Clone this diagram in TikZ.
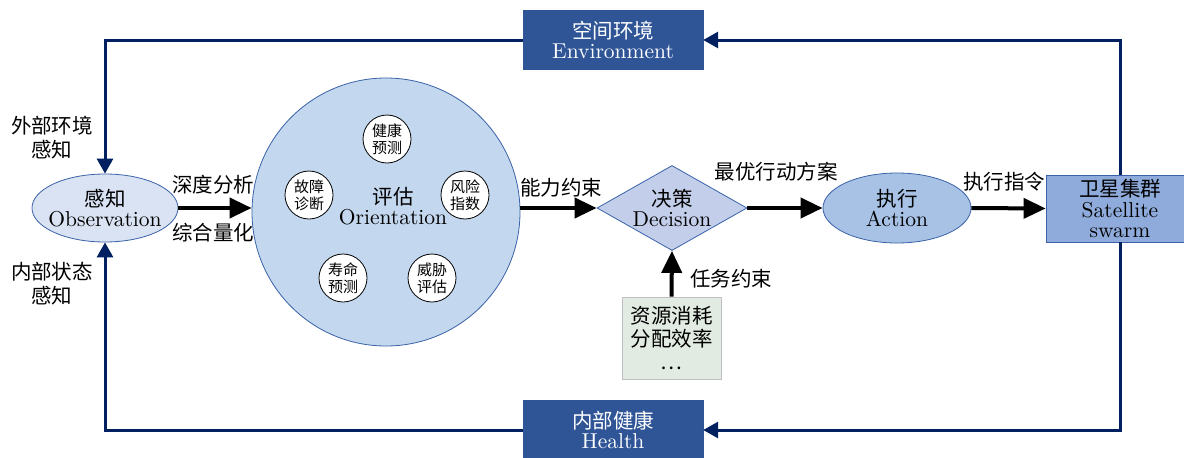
\documentclass[tikz,border=0pt]{standalone}
\usepackage{fontspec}
\setmainfont{lmroman10-regular.otf}[Scale=1.05]
\newfontfamily\cjk{Noto Sans CJK SC}
\usetikzlibrary{shapes.geometric,arrows.meta}
\definecolor{navy}{HTML}{002060}
\definecolor{darkbox}{HTML}{2F5597}
\definecolor{edgeblue}{HTML}{3A62A8}
\definecolor{obsfill}{HTML}{DAE3F3}
\definecolor{orifill}{HTML}{C3D8EE}
\definecolor{decfill}{HTML}{C3CEEA}
\definecolor{actfill}{HTML}{A7C2E5}
\definecolor{satfill}{HTML}{8FABDB}
\definecolor{resfill}{HTML}{E2EBE2}
\definecolor{resedge}{HTML}{BFBFBF}
\tikzset{
  navyflow/.style={draw=navy, line width=3pt, -{Triangle[length=15pt,width=16pt]}},
  blackflow/.style={draw=black, line width=4pt, -{Triangle[length=22pt,width=20pt]}},
  darkbox/.style={rectangle, fill=darkbox, draw=darkbox, text=white, minimum width=180pt, minimum height=59pt},
  smallcirc/.style={circle, draw=black, line width=0.8pt, fill=white, minimum size=48pt, font=\fontsize{15}{17}\selectfont\cjk},
  lbl/.style={font=\fontsize{20.5}{24}\selectfont\cjk}
}
\begin{document}
\begin{tikzpicture}[x=1pt,y=-1pt, every node/.style={font=\fontsize{20.5}{20}\selectfont, align=center, inner sep=0pt}]
\useasboundingbox (0,0) rectangle (1184,458);

% main nodes
\node[darkbox] (env) at (613,40) {{\cjk 空间环境}\\Environment};
\node[darkbox] (health) at (613,430) {{\cjk 内部健康}\\Health};
\node[ellipse, draw=edgeblue, line width=0.8pt, fill=obsfill, inner xsep=-9pt, minimum width=146pt, minimum height=68pt] (obs) at (105,208) {{\cjk 感知}\\Observation};
\node[circle, draw=edgeblue, line width=0.8pt, fill=orifill, minimum size=268pt] (ori) at (386,212) {};
\node (oritext) at (393,206) {{\cjk 评估}\\Orientation};
\node[smallcirc] (c1) at (387,139) {健康\\预测};
\node[smallcirc] (c2) at (309,195) {故障\\诊断};
\node[smallcirc] (c3) at (465,195) {风险\\指数};
\node[smallcirc] (c4) at (343,278) {寿命\\预测};
\node[smallcirc] (c5) at (432,278) {威胁\\评估};
\node[diamond, aspect=1.76, draw=edgeblue, line width=0.8pt, fill=decfill, minimum width=150pt, minimum height=85pt] (dec) at (672,208) {{\cjk 决策}\\Decision};
\node[rectangle, draw=resedge, line width=0.8pt, fill=resfill, minimum width=99pt, minimum height=82pt, font=\fontsize{20.5}{23}\selectfont\cjk] (res) at (671.5,338) {资源消耗\\分配效率\\…};
\node[ellipse, draw=edgeblue, line width=0.8pt, fill=actfill, minimum width=148pt, minimum height=70pt] (act) at (897,208) {{\cjk 执行}\\Action};
\node[rectangle, draw=edgeblue, line width=0.8pt, fill=satfill, minimum width=148pt, minimum height=67pt, font=\fontsize{20.5}{20.5}\selectfont] (sat) at (1120,208.5) {{\cjk 卫星集群}\\Satellite\\swarm};

% labels
\node[lbl] (l1) at (52,138) {外部环境\\感知};
\node[lbl] (l2) at (52,284) {内部状态\\感知};
\node[lbl] (l3) at (213,185) {深度分析};
\node[lbl] (l4) at (213,233) {综合量化};
\node[lbl] (l5) at (561,188) {能力约束};
\node[lbl] (l6) at (776,172) {最优行动方案};
\node[lbl] (l7) at (731,279) {任务约束};
\node[lbl] (l8) at (1004,182) {执行指令};

% feedback loop
\draw[navyflow] (sat.north) |- (env.east);
\draw[navyflow] (env.west) -| (obs.north);
\draw[navyflow] (sat.south) |- (health.east);
\draw[navyflow] (health.west) -| (obs.south);

% main flow
\draw[blackflow] (obs.east) -- (obs.east -| ori.west);
\draw[blackflow] (dec.west -| ori.east) -- (dec.west);
\draw[blackflow] (dec.east) -- (act.west);
\draw[blackflow] (act.east) -- (sat.west);
\draw[blackflow] (res.north) -- (dec.south);
\end{tikzpicture}
\end{document}
